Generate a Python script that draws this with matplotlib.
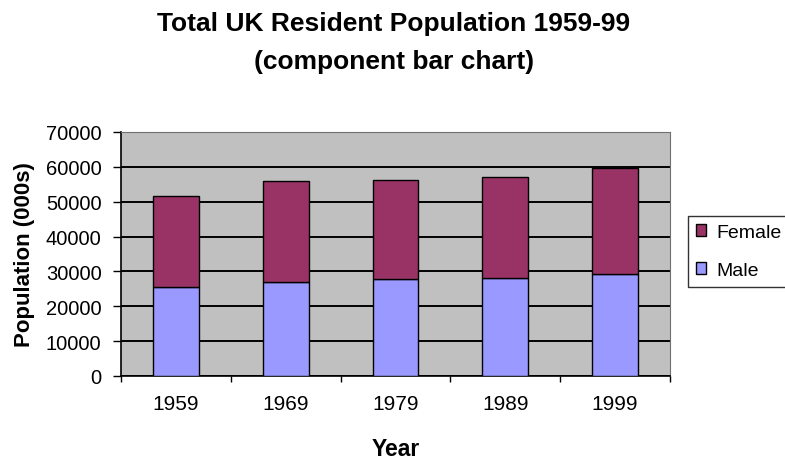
import matplotlib
matplotlib.use("Agg")
import matplotlib.pyplot as plt
import numpy as np

years = ["1959", "1969", "1979", "1989", "1999"]
male = [25400, 27000, 27700, 28200, 29300]
female = [26300, 28800, 28600, 28900, 30500]
yticks = [0, 10000, 20000, 30000, 40000, 50000, 60000, 70000]

plt.rcParams["font.family"] = ["Liberation Sans", "DejaVu Sans"]

W, H = 785, 460
fig = plt.figure(figsize=(W / 100, H / 100), dpi=100)


def fx(px):
    return px / W


def fy(py):
    return 1 - py / H


# plot area spans x 121..670, y 133..377 (pixels from the top-left)
ax = fig.add_axes([fx(121), fy(377), fx(670) - fx(121), fy(133) - fy(377)])
ax.set_facecolor("#C0C0C0")

x = np.arange(len(years))
ax.bar(x, male, width=0.416, color="#9999FF", edgecolor="black", linewidth=1, label="Male", zorder=3)
ax.bar(x, female, width=0.416, bottom=male, color="#993366", edgecolor="black", linewidth=1,
       label="Female", zorder=3)

ax.set_xlim(-0.5, len(years) - 0.5)
ax.set_ylim(0, 70000)
ax.set_yticks(yticks)
ax.set_yticklabels([str(v) for v in yticks], fontsize=14.5)
ax.yaxis.grid(True, color="black", linewidth=1.4, zorder=1)
ax.set_axisbelow(True)

# category ticks sit on the boundaries; labels in the middle
ax.set_xticks(np.arange(len(years) + 1) - 0.5)
ax.set_xticklabels([])
ax.set_xticks(x, minor=True)
ax.set_xticklabels(years, minor=True, fontsize=15)
ax.tick_params(axis="x", which="minor", length=0, pad=13)
ax.tick_params(axis="x", which="major", length=4, direction="out", width=1)
ax.tick_params(axis="y", length=6, direction="out", width=1, pad=8)

for side in ["top", "right"]:
    ax.spines[side].set_color("#707070")
for side in ["left", "bottom"]:
    ax.spines[side].set_color("black")
    ax.spines[side].set_linewidth(1.2)

ax.set_xlabel("Year", fontsize=16.5, fontweight="bold")
ax.xaxis.set_label_coords(0.5, -(438 - 377) / 244)
ax.set_ylabel("Population (000s)", fontsize=16, fontweight="bold")
ax.yaxis.set_label_coords(-(121 - 35) / 549, 0.5)

fig.text(fx(394), fy(31), "Total UK Resident Population 1959-99",
         ha="center", va="baseline", fontsize=19, fontweight="bold")
fig.text(fx(394), fy(69), "(component bar chart)",
         ha="center", va="baseline", fontsize=19, fontweight="bold")

handles, labels = ax.get_legend_handles_labels()
leg = fig.legend(handles[::-1], labels[::-1], loc="upper left", bbox_to_anchor=(fx(688), fy(217)),
                 fontsize=14, frameon=True, fancybox=False, edgecolor="black",
                 handlelength=0.55, handleheight=0.55, handletextpad=0.5, borderpad=0.4,
                 labelspacing=1.1, borderaxespad=0)
leg.get_frame().set_linewidth(1)

fig.savefig("out.png", dpi=100)
